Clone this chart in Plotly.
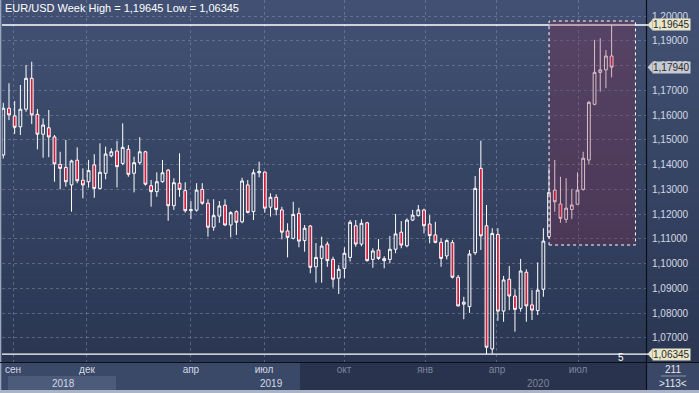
import numpy as np
import plotly.graph_objects as go

# ---------------- data (weekly EUR/USD bars) ----------------
opens = [1.1439, 1.1628, 1.1597, 1.1553, 1.1624, 1.1749, 1.1603, 1.1523, 1.1549, 1.1512,
         1.1401, 1.1389, 1.1318, 1.1418, 1.1337, 1.1331, 1.1399, 1.1304, 1.1365, 1.1436,
         1.1455, 1.1405, 1.1462, 1.1365, 1.1408, 1.1452, 1.1315, 1.1291, 1.1331, 1.1378,
         1.1234, 1.1325, 1.1295, 1.1214, 1.1216, 1.1300, 1.1244, 1.1147, 1.1192, 1.1236,
         1.1156, 1.1210, 1.1169, 1.1318, 1.1210, 1.1367, 1.1370, 1.1228, 1.1268, 1.1217,
         1.1132, 1.1102, 1.1203, 1.1093, 1.1152, 1.0987, 1.1021, 1.1079, 1.1017, 1.0941,
         1.0981, 1.1025, 1.1153, 1.1079, 1.1165, 1.1017, 1.1055, 1.1012, 1.1017, 1.1058,
         1.1127, 1.1072, 1.1176, 1.1194, 1.1217, 1.1160, 1.1116, 1.1086, 1.1031, 1.1085,
         1.0945, 1.0836, 1.0826, 1.1044, 1.1385, 1.1153, 1.0655, 1.1118, 1.0808, 1.0937,
         1.0869, 1.0819, 1.0965, 1.0833, 1.0810, 1.0896, 1.1109, 1.1297, 1.1241, 1.1179,
         1.1219, 1.1240, 1.1300, 1.1419, 1.1644, 1.1773, 1.1783, 1.1839]
highs = [1.1650, 1.1729, 1.1657, 1.1722, 1.1803, 1.1816, 1.1625, 1.1587, 1.1621, 1.1520,
         1.1452, 1.1500, 1.1420, 1.1470, 1.1385, 1.1419, 1.1442, 1.1486, 1.1473, 1.1466,
         1.1496, 1.1567, 1.1479, 1.1432, 1.1511, 1.1456, 1.1338, 1.1369, 1.1419, 1.1382,
         1.1345, 1.1446, 1.1329, 1.1253, 1.1325, 1.1325, 1.1260, 1.1260, 1.1253, 1.1260,
         1.1212, 1.1215, 1.1347, 1.1338, 1.1381, 1.1412, 1.1372, 1.1284, 1.1280, 1.1230,
         1.1163, 1.1250, 1.1226, 1.1156, 1.1156, 1.1083, 1.1109, 1.1089, 1.1028, 1.0994,
         1.1066, 1.1176, 1.1176, 1.1179, 1.1169, 1.1062, 1.1099, 1.1030, 1.1112, 1.1201,
         1.1172, 1.1183, 1.1217, 1.1237, 1.1222, 1.1196, 1.1169, 1.1102, 1.1098, 1.1095,
         1.0954, 1.0866, 1.1055, 1.1354, 1.1497, 1.1237, 1.1143, 1.1143, 1.0950, 1.0990,
         1.0896, 1.1019, 1.0977, 1.0893, 1.1005, 1.1143, 1.1388, 1.1419, 1.1351, 1.1345,
         1.1302, 1.1369, 1.1452, 1.1657, 1.1904, 1.1911, 1.1863, 1.19645]
lows = [1.1425, 1.1580, 1.1524, 1.1520, 1.1614, 1.1564, 1.1462, 1.1428, 1.1430, 1.1331,
        1.1300, 1.1311, 1.1210, 1.1325, 1.1264, 1.1307, 1.1266, 1.1300, 1.1341, 1.1430,
        1.1308, 1.1398, 1.1351, 1.1288, 1.1400, 1.1315, 1.1230, 1.1270, 1.1327, 1.1173,
        1.1217, 1.1270, 1.1206, 1.1180, 1.1210, 1.1238, 1.1109, 1.1133, 1.1165, 1.1152,
        1.1106, 1.1116, 1.1163, 1.1203, 1.1176, 1.1349, 1.1206, 1.1190, 1.1195, 1.1098,
        1.1025, 1.1098, 1.1066, 1.1048, 1.0961, 1.0923, 1.0923, 1.0987, 1.0903, 1.0877,
        1.0941, 1.1008, 1.1068, 1.1070, 1.1008, 1.0983, 1.1015, 1.0981, 1.1001, 1.1042,
        1.1062, 1.1066, 1.1172, 1.1190, 1.1122, 1.1082, 1.1082, 1.0987, 1.1017, 1.0940,
        1.0827, 1.0775, 1.0801, 1.1035, 1.1055, 1.06345, 1.0636, 1.0769, 1.0765, 1.0812,
        1.0725, 1.0806, 1.0765, 1.0772, 1.0792, 1.0866, 1.1103, 1.1210, 1.1165, 1.1165,
        1.1180, 1.1237, 1.1295, 1.1401, 1.1640, 1.1695, 1.1709, 1.1753]
closes = [1.1628, 1.1601, 1.1551, 1.1624, 1.1749, 1.1601, 1.1523, 1.1560, 1.1512, 1.1403,
          1.1385, 1.1331, 1.1415, 1.1335, 1.1318, 1.1376, 1.1304, 1.1369, 1.1443, 1.1452,
          1.1392, 1.1470, 1.1361, 1.1408, 1.1452, 1.1321, 1.1291, 1.1331, 1.1367, 1.1234,
          1.1327, 1.1300, 1.1214, 1.1218, 1.1297, 1.1244, 1.1147, 1.1194, 1.1233, 1.1156,
          1.1206, 1.1167, 1.1334, 1.1207, 1.1367, 1.1372, 1.1224, 1.1268, 1.1219, 1.1127,
          1.1106, 1.1199, 1.1091, 1.1143, 1.0985, 1.1025, 1.1071, 1.1012, 1.0937, 1.0977,
          1.1042, 1.1167, 1.1079, 1.1163, 1.1012, 1.1051, 1.1021, 1.1020, 1.1058, 1.1120,
          1.1075, 1.1176, 1.1196, 1.1217, 1.1153, 1.1113, 1.1086, 1.1021, 1.1093, 1.0945,
          1.0829, 1.0844, 1.1039, 1.1304, 1.1112, 1.0662, 1.1122, 1.0808, 1.0934, 1.0869,
          1.0815, 1.0970, 1.0829, 1.0812, 1.0893, 1.1091, 1.1288, 1.1250, 1.1183, 1.1224,
          1.1237, 1.1297, 1.1426, 1.1652, 1.1773, 1.1783, 1.1839, 1.1794]
week_idx = list(range(len(opens)))

month_pos = [1.71, 14.72, 33.0, 45.86, 59.93, 74.18, 86.84, 101.09]
month_labels = ["сен", "дек", "апр", "июл", "окт", "янв", "апр", "июл"]
year_labels = ["2018", "2019", "2020"]
price_ticks = [1.07, 1.08, 1.09, 1.10, 1.11, 1.12, 1.13, 1.14, 1.15, 1.16, 1.17, 1.18, 1.19, 1.20]
week_high = 1.19645
week_low = 1.06345
last_price = 1.17940
box_x = [96.0, 111.2]
box_y = [1.10752, 1.19806]

# ---------------- geometry helpers (pixel -> paper) ----------------
W, H = 699, 393
L, R, T, B = 2, 53, 0, 31
PW, PH = W - L - R, H - T - B


def px(x):
    return (x - L) / PW


def py(y):
    return (H - B - y) / PH


FONT = "Liberation Sans"
LIGHT = "#d3d9e4"
DIM = "#7c8599"

fig = go.Figure()
fig.add_trace(go.Candlestick(
    x=week_idx, open=opens, high=highs, low=lows, close=closes,
    increasing=dict(line=dict(color="#ffffff", width=1), fillcolor="rgba(0,0,0,0)"),
    decreasing=dict(line=dict(color="#ffffff", width=1), fillcolor="#d21e3e"),
    whiskerwidth=0, hoverinfo="skip", showlegend=False,
))

shapes = []
# background gradient for chart and right scale
N = 30
top_c = np.array([67, 82, 116])
bot_c = np.array([42, 54, 82])
for i in range(N):
    c = top_c + (bot_c - top_c) * (i + 0.5) / N
    y0 = 362 * i / N
    y1 = 362 * (i + 1) / N
    shapes.append(dict(type="rect", xref="paper", yref="paper", x0=px(0), x1=px(W),
                       y0=py(y1), y1=py(y0), line=dict(width=0),
                       fillcolor="rgb(%d,%d,%d)" % tuple(c), layer="below"))
# bottom time panel
shapes.append(dict(type="rect", xref="paper", yref="paper", x0=px(0), x1=px(300),
                   y0=py(390), y1=py(362), line=dict(width=0), fillcolor="#3b4968", layer="below"))
shapes.append(dict(type="rect", xref="paper", yref="paper", x0=px(300), x1=px(646),
                   y0=py(390), y1=py(362), line=dict(width=0), fillcolor="#29334d", layer="below"))
shapes.append(dict(type="rect", xref="paper", yref="paper", x0=px(8), x1=px(116),
                   y0=py(390), y1=py(376), line=dict(width=0), fillcolor="#4c5b7a", layer="below"))
shapes.append(dict(type="rect", xref="paper", yref="paper", x0=px(647), x1=px(W),
                   y0=py(390), y1=py(362), line=dict(width=0), fillcolor="#3a4766", layer="below"))
# frame lines
shapes.append(dict(type="rect", xref="paper", yref="paper", x0=px(0), x1=px(W),
                   y0=py(H), y1=py(390), line=dict(width=0), fillcolor="#aab4c6", layer="above"))
shapes.append(dict(type="rect", xref="paper", yref="paper", x0=px(0), x1=px(1.3),
                   y0=py(390), y1=py(0), line=dict(width=0), fillcolor="#9aa6bb", layer="above"))
shapes.append(dict(type="line", xref="paper", yref="paper", x0=px(646.5), x1=px(646.5),
                   y0=py(390), y1=py(0), line=dict(width=1.2, color="#0b0f18"), layer="above"))
shapes.append(dict(type="line", xref="paper", yref="paper", x0=px(0), x1=px(W),
                   y0=py(362.5), y1=py(362.5), line=dict(width=1.2, color="#0b0f18"), layer="above"))
shapes.append(dict(type="line", xref="paper", yref="paper", x0=px(661), x1=px(686),
                   y0=py(376), y1=py(376), line=dict(width=1, color="#8a94a8"), layer="above"))
# week high / low lines
for v in (week_high, week_low):
    shapes.append(dict(type="line", xref="paper", yref="y", x0=px(L), x1=px(648),
                       y0=v, y1=v, line=dict(width=1.3, color="#ffffff"), layer="above"))
# selection box
shapes.append(dict(type="rect", xref="x", yref="y", x0=box_x[0], x1=box_x[1],
                   y0=box_y[0], y1=box_y[1], fillcolor="rgba(135,40,72,0.30)",
                   line=dict(color="#ffffff", width=1, dash="dot"), layer="above"))

# price tags on the right scale
annotations = []
tags = [(week_high, "#e8e5c9"), (last_price, "#c7cad2"), (week_low, "#e8e5c9")]
half = 5.5 / 2474
for v, col in tags:
    shapes.append(dict(type="path", xref="paper", yref="y",
                       path="M %f,%f L %f,%f L %f,%f Z" % (px(647.5), v, px(652.5), v + half,
                                                          px(652.5), v - half),
                       fillcolor=col, line=dict(width=0), layer="above"))
    annotations.append(dict(xref="paper", yref="y", x=px(652), y=v, xanchor="left",
                            yanchor="middle", text=("%.5f" % v).replace(".", ","),
                            showarrow=False, bgcolor=col, borderpad=0,
                            font=dict(family=FONT, size=10, color="#2a2a2a")))

annotations.append(dict(xref="paper", yref="paper", x=px(3), y=py(8), xanchor="left",
                        yanchor="middle", showarrow=False,
                        text="EUR/USD Week High = 1,19645 Low = 1,06345",
                        font=dict(family=FONT, size=11, color="#ffffff")))
annotations.append(dict(xref="paper", yref="paper", x=px(621), y=py(357), xanchor="center",
                        yanchor="middle", showarrow=False, text="5",
                        font=dict(family=FONT, size=10, color="#ffffff")))
year_x = [63, 271, 538]
year_col = [LIGHT, LIGHT, DIM]
for t, xx, cc in zip(year_labels, year_x, year_col):
    annotations.append(dict(xref="paper", yref="paper", x=px(xx), y=py(383), xanchor="center",
                            yanchor="middle", showarrow=False, text=t,
                            font=dict(family=FONT, size=10, color=cc)))
annotations.append(dict(xref="paper", yref="paper", x=px(673), y=py(369), xanchor="center",
                        yanchor="middle", showarrow=False, text="211",
                        font=dict(family=FONT, size=10, color="#e6e9ef")))
annotations.append(dict(xref="paper", yref="paper", x=px(673), y=py(383), xanchor="center",
                        yanchor="middle", showarrow=False, text="&gt;113&lt;",
                        font=dict(family=FONT, size=10, color="#e6e9ef")))

tick_text = []
for i, m in enumerate(month_labels):
    col = LIGHT if i < 4 else DIM
    tick_text.append('<span style="color:%s">%s</span>' % (col, m))

fig.update_layout(
    width=W, height=H,
    margin=dict(l=L, r=R, t=T, b=B, pad=0),
    paper_bgcolor="#3b4968", plot_bgcolor="rgba(0,0,0,0)",
    separators=", ",
    shapes=shapes, annotations=annotations,
    font=dict(family=FONT, size=10, color=LIGHT),
    xaxis=dict(range=[-0.229, 113.05], rangeslider=dict(visible=False),
               tickmode="array", tickvals=month_pos, ticktext=tick_text,
               showgrid=True, gridcolor="rgba(130,145,175,0.5)", griddash="3px,3px",
               gridwidth=1, zeroline=False, showline=False, ticks="",
               tickfont=dict(family=FONT, size=10), fixedrange=True),
    yaxis=dict(range=[1.06023, 1.20655], side="right", tickmode="array",
               tickvals=price_ticks, tickformat=".5f",
               showgrid=True, gridcolor="rgba(130,145,175,0.5)", griddash="3px,3px",
               gridwidth=1, zeroline=False, showline=False, ticks="outside",
               ticklen=3, tickcolor="rgba(0,0,0,0)",
               tickfont=dict(family=FONT, size=10, color=LIGHT), fixedrange=True),
)

fig.write_html("out.html",
               config={"displayModeBar": False, "staticPlot": True},
               post_script="document.body.style.margin='0';document.body.style.padding='0';")
